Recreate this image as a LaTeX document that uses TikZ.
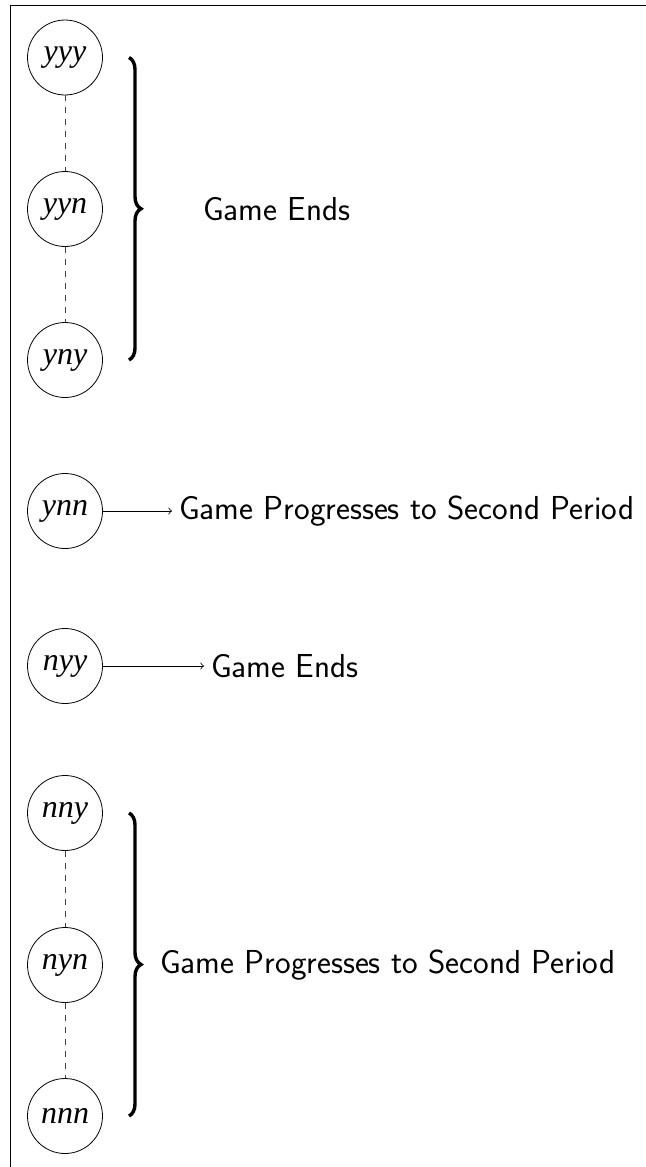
\documentclass[tikz,border=0pt]{standalone}
\usepackage{fontspec}
\newfontfamily\circfont{Liberation Serif}
\usetikzlibrary{decorations.pathreplacing}
\begin{document}
\begin{tikzpicture}[x=0.5pt,y=-0.5pt,
  st/.style={draw,circle,minimum size=37.5pt,inner sep=0pt,font=\fontsize{16}{19}\selectfont\circfont\itshape},
  lbl/.style={font=\fontsize{16.6}{19}\selectfont\sffamily,anchor=west},
  conn/.style={dashed,black!75},
  arr/.style={->},
  brc/.style={decorate,decoration={brace,amplitude=6pt},line width=1.7pt}]
\useasboundingbox (0,0) rectangle (646,1167);
\draw (10.5,1167) -- (10.5,5.5) -- (646,5.5);
\node[st] (yyy) at (65,57.5) {yyy};
\node[st] (yyn) at (65,209) {yyn};
\node[st] (yny) at (65,360) {yny};
\node[st] (ynn) at (65,511) {ynn};
\node[st] (nyy) at (65,666) {nyy};
\node[st] (nny) at (65,813) {nny};
\node[st] (nyn) at (65,965) {nyn};
\node[st] (nnn) at (65,1116) {nnn};
\draw[conn] (yyy) -- (yyn);
\draw[conn] (yyn) -- (yny);
\draw[conn] (nny) -- (nyn);
\draw[conn] (nyn) -- (nnn);
\coordinate (b1t) at (129,57.5);
\coordinate (b1b) at (129,360);
\coordinate (b2t) at (129,813);
\coordinate (b2b) at (129,1116);
\draw[brc] (b1t) -- (b1b);
\draw[brc] (b2t) -- (b2b);
\node[lbl] (ge1) at (196,209) {Game Ends};
\node[lbl] (gp2) at (153,965) {Game Progresses to Second Period};
\node[lbl] (gp1) at (172,511) {Game Progresses to Second Period};
\node[lbl] (ge2) at (204,666) {Game Ends};
\draw[arr] (ynn) -- (gp1);
\draw[arr] (nyy) -- (ge2);
\end{tikzpicture}
\end{document}
